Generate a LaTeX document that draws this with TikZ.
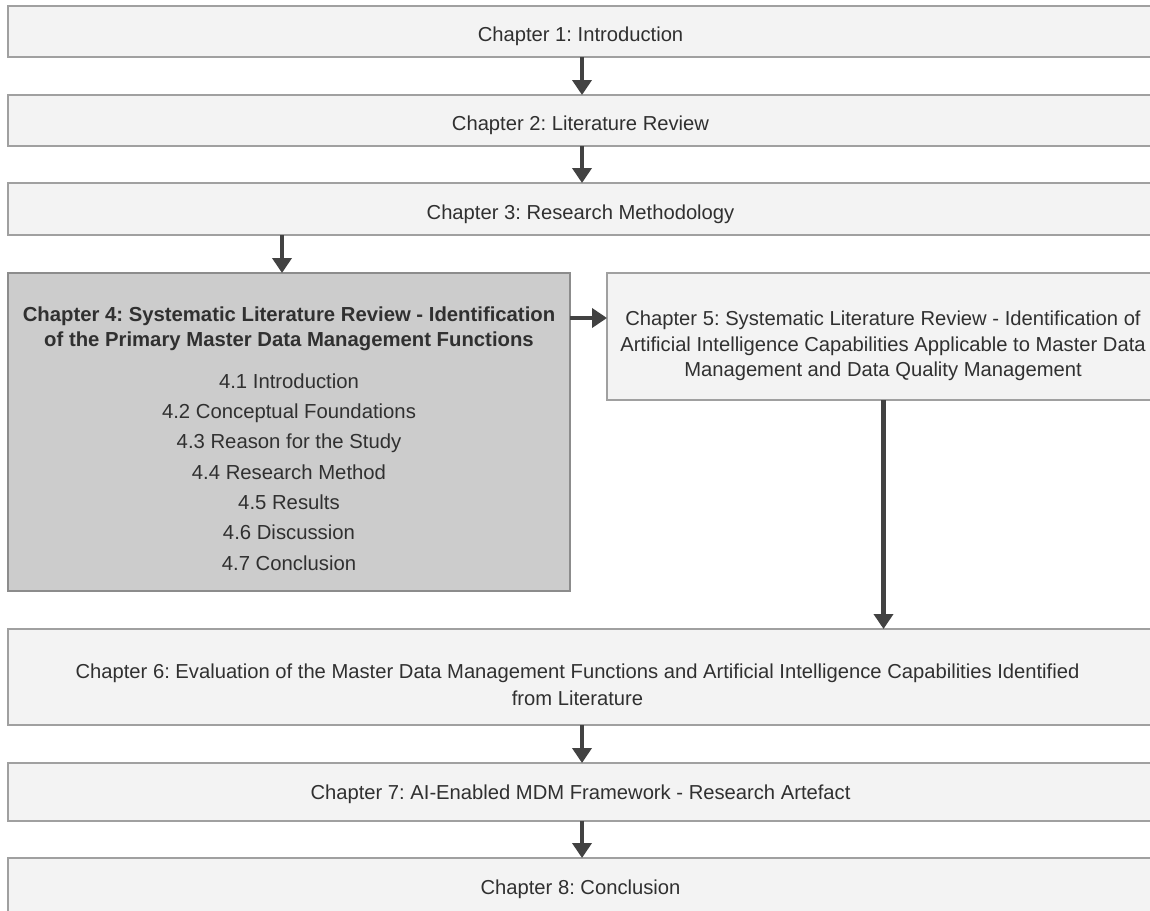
\documentclass[tikz,border=0pt]{standalone}
\usepackage{fontspec}
\setmainfont{Liberation Sans}
\usetikzlibrary{arrows.meta}
\definecolor{boxfill}{HTML}{F3F3F3}
\definecolor{boxline}{HTML}{A0A0A0}
\definecolor{focusfill}{HTML}{CCCCCC}
\definecolor{focusline}{HTML}{8C8C8C}
\definecolor{arrowcol}{HTML}{424242}
\definecolor{inkcol}{HTML}{303030}

\begin{document}
\frenchspacing
\begin{tikzpicture}[x=1pt,y=-1pt,
  chapbox/.style={draw=boxline, fill=boxfill, line width=1.6pt, rectangle,
                  inner sep=0pt, outer sep=0pt},
  focusbox/.style={chapbox, draw=focusline, fill=focusfill},
  chaptext/.style={text=inkcol, font=\fontsize{20.2}{25.5}\selectfont,
                   align=center, inner sep=0pt, anchor=base},
  focustitle/.style={text=inkcol, font=\fontsize{20.3}{25}\selectfont\bfseries,
                     align=center, inner sep=0pt, anchor=base},
  focusitems/.style={text=inkcol, font=\fontsize{20.3}{30.3}\selectfont,
                     align=center, inner sep=0pt, anchor=base},
  flow/.style={draw=arrowcol, line width=4.5pt,
               -{Triangle[width=19pt,length=15pt]}},
]
\useasboundingbox (0,0) rectangle (1150,910);
\clip (0,0) rectangle (1150,910);

% chapter boxes
\node[chapbox, minimum width=1144pt, minimum height=51pt] (c1) at (580,31.5) {};
\node[chapbox, minimum width=1144pt, minimum height=51pt] (c2) at (580,120.5) {};
\node[chapbox, minimum width=1144pt, minimum height=52pt] (c3) at (580,209) {};
\node[focusbox, minimum width=562pt, minimum height=318pt] (c4) at (289,432) {};
\node[chapbox, minimum width=553pt, minimum height=127pt] (c5) at (883.5,336.5) {};
\node[chapbox, minimum width=1144pt, minimum height=96pt] (c6) at (580,677) {};
\node[chapbox, minimum width=1144pt, minimum height=58pt] (c7) at (580,792) {};
\node[chapbox, minimum width=1144pt, minimum height=58pt] (c8) at (580,887) {};

% texts (multi-line nodes are placed by the baseline of their last line)
\node[chaptext] (t1) at (580.5,41.5) {Chapter 1: Introduction};
\node[chaptext] (t2) at (580.5,130.5) {Chapter 2: Literature Review};
\node[chaptext] (t3) at (580.5,219) {Chapter 3: Research Methodology};
\node[focustitle] (t4) at (289,346.7) {Chapter 4: Systematic Literature Review - Identification\\
  of the Primary Master Data Management Functions};
\node[focusitems] (t4s) at (289,570) {4.1 Introduction\\4.2 Conceptual Foundations\\
  4.3 Reason for the Study\\4.4 Research Method\\4.5 Results\\4.6 Discussion\\4.7 Conclusion};
\node[chaptext] (t5) at (883,376.5) {Chapter 5: Systematic Literature Review - Identification of\\
  Artificial Intelligence Capabilities Applicable to Master Data\\
  Management and Data Quality Management};
\node[chaptext, font=\fontsize{20.2}{26.7}\selectfont] (t6) at (577.5,705) {Chapter 6: Evaluation of the Master Data Management Functions and Artificial Intelligence Capabilities Identified\\
  from Literature};
\node[chaptext] (t7) at (580.5,799) {Chapter 7: AI-Enabled MDM Framework - Research Artefact};
\node[chaptext] (t8) at (580.5,894) {Chapter 8: Conclusion};

% connector guides
\coordinate (x34) at (282,0);
\coordinate (y45) at (0,318);

% connectors
\draw[flow] ([xshift=2pt]c1.south) -- ([xshift=2pt]c2.north);
\draw[flow] ([xshift=2pt]c2.south) -- ([xshift=2pt]c3.north);
\draw[flow] (c3.south -| x34) -- (c4.north -| x34);
\draw[flow] (c4.east |- y45) -- (c5.west |- y45);
\draw[flow] (c5.south) -- (c6.north -| c5.south);
\draw[flow] ([xshift=2pt]c6.south) -- ([xshift=2pt]c7.north);
\draw[flow] ([xshift=2pt]c7.south) -- ([xshift=2pt]c8.north);
\end{tikzpicture}
\end{document}
